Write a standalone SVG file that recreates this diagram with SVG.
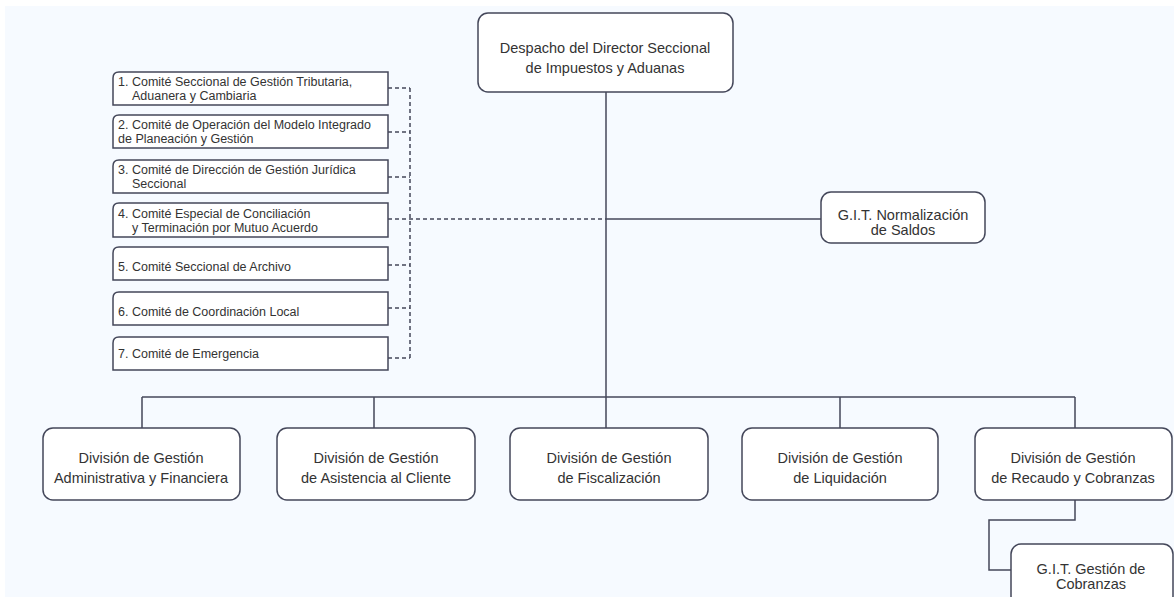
<svg xmlns="http://www.w3.org/2000/svg" width="1174" height="597" viewBox="0 0 1174 597">
<style>
.box{fill:#ffffff;stroke:#44475a;stroke-width:1.5}
.ln{fill:none;stroke:#44475a;stroke-width:1.5}
.dash{fill:none;stroke:#44475a;stroke-width:1.5;stroke-dasharray:4 3}
.t{font-family:"Liberation Sans",Arial,sans-serif;font-size:14.5px;fill:#333333;text-anchor:middle}
.c{font-family:"Liberation Sans",Arial,sans-serif;font-size:12.5px;fill:#333333}
</style>
<rect x="0" y="0" width="1174" height="597" fill="#ffffff"/>
<rect x="5" y="6" width="1169" height="591" fill="#f6faff"/>
<g id="connectors">
<path class="ln" d="M606 92 V397"/>
<path class="ln" d="M142 397 H1075"/>
<path class="ln" d="M142 397 V428 M374 397 V428 M606 397 V428 M840 397 V428 M1075 397 V428"/>
<path class="ln" d="M606 219 H821"/>
<path class="ln" d="M1075 500 V520 H989 V570 H1011"/>
<path class="dash" d="M410 88 V358"/>
<path class="dash" d="M388 88 H410 M388 132 H410 M388 177 H410 M388 265 H410 M388 308 H410 M388 358 H410"/>
<path class="dash" d="M388 219 H606"/>
</g>
<g id="director">
<rect class="box" x="478" y="13" width="255" height="79" rx="10"/>
<text class="t" x="605" y="53">Despacho del Director Seccional</text>
<text class="t" x="605" y="73">de Impuestos y Aduanas</text>
</g>
<g id="c1">
<path class="box" d="M119 72 H388 V105 H113 V78 Q113 72 119 72 Z"/>
<text class="c" x="118" y="86">1. Comité Seccional de Gestión Tributaria,</text>
<text class="c" x="132" y="100">Aduanera y Cambiaria</text>
</g>
<g id="c2">
<path class="box" d="M119 115 H388 V148 H113 V121 Q113 115 119 115 Z"/>
<text class="c" x="118" y="129">2. Comité de Operación del Modelo Integrado</text>
<text class="c" x="118" y="143">de Planeación y Gestión</text>
</g>
<g id="c3">
<path class="box" d="M119 160 H388 V193 H113 V166 Q113 160 119 160 Z"/>
<text class="c" x="118" y="174">3. Comité de Dirección de Gestión Jurídica</text>
<text class="c" x="132" y="188">Seccional</text>
</g>
<g id="c4">
<path class="box" d="M119 203 H388 V237 H113 V209 Q113 203 119 203 Z"/>
<text class="c" x="118" y="218">4. Comité Especial de Conciliación</text>
<text class="c" x="132" y="232">y Terminación por Mutuo Acuerdo</text>
</g>
<g id="c5">
<path class="box" d="M119 247 H388 V280 H113 V253 Q113 247 119 247 Z"/>
<text class="c" x="118" y="271">5. Comité Seccional de Archivo</text>
</g>
<g id="c6">
<path class="box" d="M119 292 H388 V325 H113 V298 Q113 292 119 292 Z"/>
<text class="c" x="118" y="316">6. Comité de Coordinación Local</text>
</g>
<g id="c7">
<path class="box" d="M119 337 H388 V370 H113 V343 Q113 337 119 337 Z"/>
<text class="c" x="118" y="358">7. Comité de Emergencia</text>
</g>
<g id="git-saldos">
<rect class="box" x="821" y="192" width="164" height="51" rx="10"/>
<text class="t" x="903" y="220">G.I.T. Normalización</text>
<text class="t" x="903" y="235">de Saldos</text>
</g>
<g id="d1">
<rect class="box" x="43" y="428" width="197" height="72" rx="10"/>
<text class="t" x="141" y="463">División de Gestión</text>
<text class="t" x="141" y="483">Administrativa y Financiera</text>
</g>
<g id="d2">
<rect class="box" x="277" y="428" width="198" height="72" rx="10"/>
<text class="t" x="376" y="463">División de Gestión</text>
<text class="t" x="376" y="483">de Asistencia al Cliente</text>
</g>
<g id="d3">
<rect class="box" x="510" y="428" width="198" height="72" rx="10"/>
<text class="t" x="609" y="463">División de Gestión</text>
<text class="t" x="609" y="483">de Fiscalización</text>
</g>
<g id="d4">
<rect class="box" x="742" y="428" width="196" height="72" rx="10"/>
<text class="t" x="840" y="463">División de Gestión</text>
<text class="t" x="840" y="483">de Liquidación</text>
</g>
<g id="d5">
<rect class="box" x="975" y="428" width="197" height="72" rx="10"/>
<text class="t" x="1073" y="463">División de Gestión</text>
<text class="t" x="1073" y="483">de Recaudo y Cobranzas</text>
</g>
<g id="git-cobranzas">
<rect class="box" x="1011" y="544" width="162" height="62" rx="10"/>
<text class="t" x="1091" y="574">G.I.T. Gestión de</text>
<text class="t" x="1091" y="589">Cobranzas</text>
</g>
</svg>
